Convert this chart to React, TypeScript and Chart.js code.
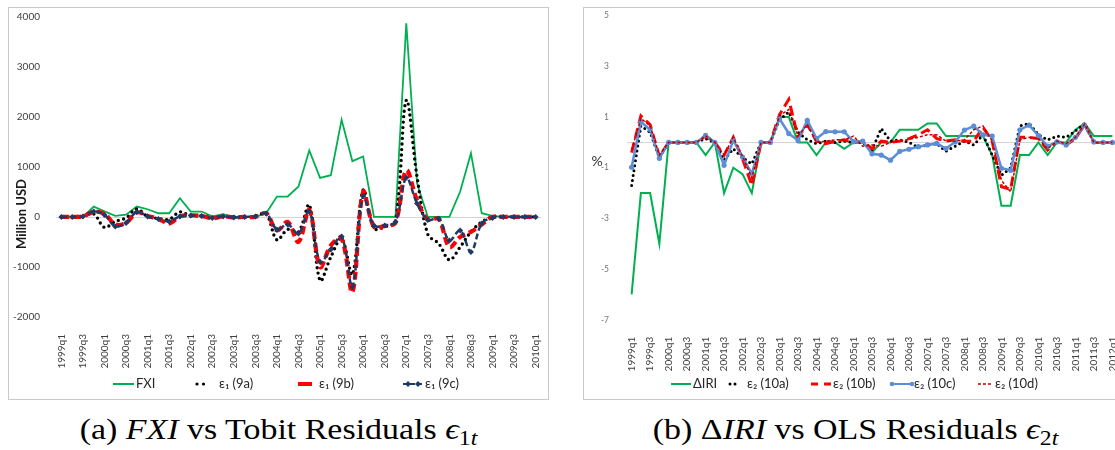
import React, { useEffect, useRef } from "react";
import { Chart, registerables } from "chart.js";

Chart.register(...registerables);

// ---------- categories ----------
const QUARTERS = [
  "1999q1","1999q2","1999q3","1999q4","2000q1","2000q2","2000q3","2000q4",
  "2001q1","2001q2","2001q3","2001q4","2002q1","2002q2","2002q3","2002q4",
  "2003q1","2003q2","2003q3","2003q4","2004q1","2004q2","2004q3","2004q4",
  "2005q1","2005q2","2005q3","2005q4","2006q1","2006q2","2006q3","2006q4",
  "2007q1","2007q2","2007q3","2007q4","2008q1","2008q2","2008q3","2008q4",
  "2009q1","2009q2","2009q3","2009q4","2010q1","2010q2","2010q3","2010q4",
  "2011q1","2011q2","2011q3","2011q4","2012q1",
];
const LEFT_QUARTERS = QUARTERS.slice(0, 45);
const RIGHT_QUARTERS = QUARTERS.slice(0, 53);

// ---------- panel (a): FXI vs Tobit residuals (Million USD) ----------
const FXI = [0,0,0,206,110,20,46,206,153,73,73,373,107,107,10,53,0,0,0,74,407,407,607,1327,780,833,1940,1113,1207,0,0,0,3870,673,0,0,0,507,1273,73,20,0,0,0,0];
const E1_9A = [0,0,20,60,-210,-90,-20,160,10,-30,-50,100,20,30,-10,10,0,-10,20,60,-460,-250,-300,240,-1270,-800,-430,-1150,540,-230,-200,-80,2330,800,-350,-530,-860,-600,-300,-100,0,0,0,0,0];
const E1_9B = [0,0,10,100,60,-150,-120,90,20,-40,-130,10,30,20,-30,10,-10,0,0,70,-270,-100,-500,140,-1000,-570,-430,-1500,500,-200,-180,-110,930,330,-50,-40,-600,-400,-300,-150,0,0,0,0,0];
const E1_9C = [0,0,10,110,40,-190,-120,100,10,-40,-90,10,30,20,-20,10,-10,0,10,70,-250,-150,-330,110,-900,-650,-390,-1400,420,-170,-170,-100,780,270,-60,-30,-470,-270,-700,-130,-20,0,0,0,0];
const LEFT_Y_TICKS = [-2000,-1000,0,1000,2000,3000,4000];

// ---------- panel (b): ΔIRI vs OLS residuals (%) ----------
const D_IRI = [-6,-2,-2,-4,0,0,0,0,-0.5,0,-2,-1,-1.25,-2,0,0,1,1,0,0,-0.5,0,0,-0.25,0,0,-0.4,0,0,0.5,0.5,0.5,0.75,0.75,0.25,0.25,0.25,0.25,0.25,-0.5,-2.5,-2.5,-0.5,-0.5,0,-0.5,0,0,0.5,0.75,0.25,0.25,0.25];
const E2_10A = [-1.7,0.65,0.4,-0.6,0,0,0,0,0.15,0,-0.7,-0.25,-0.6,-0.85,0,0,0.9,1.2,0.4,0.1,-0.05,0.05,0,0.05,0,0,-0.3,0.55,0.05,0.1,0,-0.2,-0.1,-0.05,-0.35,-0.15,0.05,-0.1,0.3,-0.5,-1.3,-1.0,0.65,0.75,0.3,0.1,0.25,0.2,0.45,0.75,0,0,0];
const E2_10B = [-0.4,1.05,0.7,-0.55,0,0,0,0,0.25,0,-0.5,0.2,-0.65,-1.7,0,0,1.1,1.7,0.2,0.7,0.05,-0.05,0.05,0.1,0,0.05,-0.25,0.05,0,0.05,0.15,0.3,0.5,0.15,0.05,0.1,0.05,0.05,0.6,0.05,-1.75,-1.85,0.2,0.2,0.15,-0.3,0.05,-0.1,0.15,0.7,0,0,0];
const E2_10C = [-0.98,0.81,0.51,-0.63,0,0,0,0,0.28,0,-0.9,0.08,-0.58,-1.23,0,0,0.93,0.35,0.08,0.87,0.15,0.43,0.42,0.42,0.03,0.05,-0.45,-0.5,-0.7,-0.35,-0.27,-0.17,-0.1,-0.04,-0.24,0.02,0.49,0.64,0.3,0.25,-1.02,-1.1,0.5,0.68,0.27,-0.15,0.02,-0.1,0.2,0.67,0.02,0,0];
const E2_10D = [-0.3,0.95,0.65,-0.5,0,0,0,0,0.25,0,-0.5,0.2,-0.55,-1.4,0,0,1.05,1.3,0.25,0.7,0,0.05,0.1,0.1,0.25,-0.15,-0.1,-0.15,0,0.05,0.12,0.2,0.3,0.3,0.05,0.05,0.1,0.5,0.65,0.05,-1.5,-1.95,0.1,0.2,0.15,-0.25,0.05,-0.05,0.2,0.72,0,0,0];
const RIGHT_Y_TICKS = [-7,-5,-3,-1,1,3,5];

// ---------- colours ----------
const GREEN = "#00B050";
const NAVY = "#1F3A66";
const RED = "#FF0000";
const BLUE = "#5B8ED6";
const DARKRED = "#C00000";

type Sample = {
  x0: number; x1: number; color: string; width: number;
  dash?: number[]; cap?: CanvasLineCap;
  marker?: "diamond" | "circle"; markerAt?: number[]; markerR?: number;
};
type LegendItem = { sample: Sample; text: string; tx: number };

function drawMarker(ctx: CanvasRenderingContext2D, kind: string, x: number, y: number, r: number) {
  ctx.beginPath();
  if (kind === "diamond") {
    ctx.moveTo(x, y - r); ctx.lineTo(x + r, y); ctx.lineTo(x, y + r); ctx.lineTo(x - r, y); ctx.closePath();
  } else {
    ctx.arc(x, y, r, 0, Math.PI * 2);
  }
  ctx.fill();
}

function makeOverlay(opts: {
  legend: LegendItem[]; legendY: number;
  title: { text: string; x: number; y: number; rotate: boolean; font: string; color: string };
}) {
  return {
    id: "overlay",
    beforeDatasetsDraw(chart: any) {
      const { ctx, chartArea } = chart;
      const y = Math.round(chart.scales.y.getPixelForValue(0)) + 0.5;
      ctx.save();
      ctx.strokeStyle = "#D4D4D4";
      ctx.lineWidth = 1;
      ctx.beginPath();
      ctx.moveTo(chartArea.left, y);
      ctx.lineTo(chartArea.right, y);
      ctx.stroke();
      ctx.restore();
    },
    afterDraw(chart: any) {
      const ctx: CanvasRenderingContext2D = chart.ctx;
      const y = opts.legendY;
      for (const it of opts.legend) {
        const s = it.sample;
        ctx.save();
        ctx.strokeStyle = s.color;
        ctx.lineWidth = s.width;
        ctx.setLineDash(s.dash || []);
        ctx.lineCap = s.cap || "butt";
        ctx.beginPath();
        ctx.moveTo(s.x0, y);
        ctx.lineTo(s.x1, y);
        ctx.stroke();
        if (s.marker && s.markerAt) {
          ctx.setLineDash([]);
          ctx.fillStyle = s.color;
          for (const mx of s.markerAt) drawMarker(ctx, s.marker, mx, y, s.markerR || 3);
        }
        ctx.fillStyle = "#262626";
        ctx.font = "13px Lato";
        ctx.textBaseline = "middle";
        ctx.textAlign = "left";
        ctx.fillText(it.text, it.tx, y);
        ctx.restore();
      }
      const t = opts.title;
      ctx.save();
      ctx.translate(t.x, t.y);
      if (t.rotate) ctx.rotate(-Math.PI / 2);
      ctx.font = t.font;
      ctx.fillStyle = t.color;
      ctx.textAlign = "center";
      ctx.textBaseline = "middle";
      ctx.fillText(t.text, 0, 0);
      ctx.restore();
    },
  };
}

function xTicks(labels: string[]) {
  return {
    autoSkip: false,
    minRotation: 90,
    maxRotation: 90,
    padding: 9,
    color: "#404040",
    font: { family: "Lato", size: 10 },
    callback: (_v: any, i: number) => (i % 2 === 0 ? labels[i] : ""),
  };
}

export default function App() {
  const leftRef = useRef<HTMLCanvasElement | null>(null);
  const rightRef = useRef<HTMLCanvasElement | null>(null);

  useEffect(() => {
    const left = new Chart(leftRef.current as HTMLCanvasElement, {
      type: "line",
      data: {
        labels: LEFT_QUARTERS,
        datasets: [
          { label: "FXI", data: FXI, borderColor: GREEN, borderWidth: 1.8, pointRadius: 0, tension: 0, order: 4 },
          { label: "ε₁ (9a)", data: E1_9A, borderColor: "#000000", borderWidth: 3.4, borderDash: [0, 5.5], borderCapStyle: "round", pointRadius: 0, tension: 0.35, order: 3 },
          { label: "ε₁ (9b)", data: E1_9B, borderColor: RED, borderWidth: 4.2, borderDash: [8, 4], pointRadius: 0, tension: 0.35, order: 2 },
          { label: "ε₁ (9c)", data: E1_9C, borderColor: NAVY, backgroundColor: NAVY, borderWidth: 2.5, borderDash: [6, 3], pointStyle: "rectRot", pointRadius: 3, pointBorderWidth: 0, pointBackgroundColor: NAVY, tension: 0.35, order: 1 },
        ] as any,
      },
      options: {
        animation: false,
        responsive: false,
        events: [],
        layout: { padding: { left: 0, right: 6, top: 8.7, bottom: 0 } },
        plugins: { legend: { display: false }, tooltip: { enabled: false } },
        scales: {
          x: {
            offset: true,
            grid: { display: false },
            border: { display: false },
            ticks: xTicks(LEFT_QUARTERS) as any,
            afterFit: (s: any) => { s.height = 81; s.paddingLeft = 0; s.paddingRight = 0; },
          },
          y: {
            min: -2000,
            max: 4000,
            grid: { display: false },
            border: { display: false },
            afterBuildTicks: (s: any) => { s.ticks = LEFT_Y_TICKS.map((v) => ({ value: v })); },
            ticks: { padding: 8, color: "#404040", font: { family: "Lato", size: 10 }, callback: (v: any) => String(v) },
            afterFit: (s: any) => { s.width = 47; s.paddingTop = 0; s.paddingBottom = 0; },
          },
        },
      },
      plugins: [
        makeOverlay({
          legendY: 376,
          legend: [
            { sample: { x0: 104, x1: 125, color: GREEN, width: 2 }, text: "FXI", tx: 127 },
            { sample: { x0: 188, x1: 201, color: "#000", width: 3.2, dash: [0, 6.5], cap: "round" }, text: "ε₁ (9a)", tx: 210 },
            { sample: { x0: 289, x1: 303, color: RED, width: 4 }, text: "ε₁ (9b)", tx: 310 },
            { sample: { x0: 394, x1: 415, color: NAVY, width: 2, dash: [5, 2], marker: "diamond", markerAt: [399, 409], markerR: 3 }, text: "ε₁ (9c)", tx: 416 },
          ],
          title: { text: "Million USD", x: 13, y: 206, rotate: true, font: "bold 13px Lato", color: "#1a1a1a" },
        }) as any,
      ],
    });

    const right = new Chart(rightRef.current as HTMLCanvasElement, {
      type: "line",
      data: {
        labels: RIGHT_QUARTERS,
        datasets: [
          { label: "ΔIRI", data: D_IRI, borderColor: GREEN, borderWidth: 2, pointRadius: 0, tension: 0, order: 5 },
          { label: "ε₂ (10a)", data: E2_10A, borderColor: "#000000", borderWidth: 3, borderDash: [0, 5], borderCapStyle: "round", pointRadius: 0, tension: 0, order: 4 },
          { label: "ε₂ (10b)", data: E2_10B, borderColor: RED, borderWidth: 3, borderDash: [10, 5], pointRadius: 0, tension: 0, order: 3 },
          { label: "ε₂ (10c)", data: E2_10C, borderColor: BLUE, backgroundColor: BLUE, borderWidth: 2.5, pointStyle: "circle", pointRadius: 2.6, pointBorderWidth: 0, pointBackgroundColor: BLUE, tension: 0, order: 2 },
          { label: "ε₂ (10d)", data: E2_10D, borderColor: DARKRED, borderWidth: 1.5, borderDash: [3, 2], pointRadius: 0, tension: 0, order: 1 },
        ] as any,
      },
      options: {
        animation: false,
        responsive: false,
        events: [],
        layout: { padding: { left: 0, right: 7, top: 7.7, bottom: 0 } },
        plugins: { legend: { display: false }, tooltip: { enabled: false } },
        scales: {
          x: {
            offset: true,
            grid: { display: false },
            border: { display: false },
            ticks: xTicks(RIGHT_QUARTERS) as any,
            afterFit: (s: any) => { s.height = 78.2; s.paddingLeft = 0; s.paddingRight = 0; },
          },
          y: {
            min: -7,
            max: 5,
            grid: { display: false },
            border: { display: false },
            afterBuildTicks: (s: any) => { s.ticks = RIGHT_Y_TICKS.map((v) => ({ value: v })); },
            ticks: { padding: 10, color: "#767676", font: { family: "Lato", size: 8.5 }, callback: (v: any) => String(v) },
            afterFit: (s: any) => { s.width = 43; s.paddingTop = 0; s.paddingBottom = 0; },
          },
        },
      },
      plugins: [
        makeOverlay({
          legendY: 376,
          legend: [
            { sample: { x0: 87, x1: 107, color: GREEN, width: 2 }, text: "ΔIRI", tx: 109 },
            { sample: { x0: 146, x1: 156, color: "#000", width: 3, dash: [0, 5], cap: "round" }, text: "ε₂ (10a)", tx: 163 },
            { sample: { x0: 227, x1: 247, color: RED, width: 3, dash: [7, 6] }, text: "ε₂ (10b)", tx: 249 },
            { sample: { x0: 307, x1: 329, color: BLUE, width: 2, marker: "circle", markerAt: [308, 328], markerR: 2.3 }, text: "ε₂ (10c)", tx: 330 },
            { sample: { x0: 394, x1: 409, color: DARKRED, width: 1.5, dash: [3, 2] }, text: "ε₂ (10d)", tx: 411 },
          ],
          title: { text: "%", x: 13, y: 153, rotate: false, font: "14px Lato", color: "#333333" },
        }) as any,
      ],
    });

    return () => {
      left.destroy();
      right.destroy();
    };
  }, []);

  const captionStyle: React.CSSProperties = {
    position: "absolute",
    top: 415,
    textAlign: "center",
    fontFamily: '"Liberation Serif", "DejaVu Serif", serif',
    fontSize: 29,
    lineHeight: "29px",
    whiteSpace: "nowrap",
    color: "#000",
    transform: "scaleX(1.17)",
    transformOrigin: "50% 50%",
  };
  const subStyle: React.CSSProperties = { fontSize: "0.7em", verticalAlign: "-0.28em", lineHeight: 0 };

  return (
    <div style={{ position: "absolute", left: 0, top: 0, width: 1115, height: 450, overflow: "hidden", background: "#fff" }}>
      <div style={{ position: "absolute", left: 8, top: 7, width: 541, height: 393, border: "1px solid #C9C9C9", boxSizing: "border-box" }} />
      <canvas ref={leftRef} width={538} height={390} style={{ position: "absolute", left: 9, top: 8, width: 538, height: 390 }} />
      <div style={{ position: "absolute", left: 583, top: 7, width: 560, height: 393, border: "1px solid #C9C9C9", boxSizing: "border-box" }} />
      <canvas ref={rightRef} width={540} height={390} style={{ position: "absolute", left: 584, top: 8, width: 540, height: 390 }} />
      <div style={{ ...captionStyle, left: 8, width: 541 }}>
        (a) <i>FXI</i> vs Tobit Residuals <i>ϵ</i><sub style={subStyle}>1<i>t</i></sub>
      </div>
      <div style={{ ...captionStyle, left: 583, width: 545 }}>
        (b) Δ<i>IRI</i> vs OLS Residuals <i>ϵ</i><sub style={subStyle}>2<i>t</i></sub>
      </div>
    </div>
  );
}
